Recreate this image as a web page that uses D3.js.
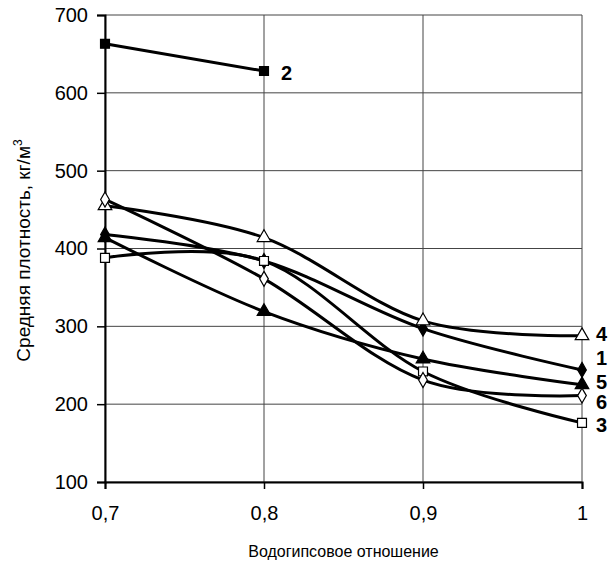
<!DOCTYPE html>
<html>
<head>
<meta charset="utf-8">
<script src="https://cdn.jsdelivr.net/npm/d3@7"></script>
<style>
  body { margin: 0; background: #fff; }
  svg text { font-family: "Liberation Sans", Arial, sans-serif; }
</style>
</head>
<body>
<svg id="chart" width="614" height="563"></svg>
<script>
// data
var ratios = [0.7, 0.8, 0.9, 1.0];
var s1 = [418, 384, 297, 244];
var s2 = [663, 628];
var s3 = [388, 384, 242, 176];
var s4 = [455, 414, 307, 288];
var s5 = [414, 319, 258, 225];
var s6 = [463, 361, 231, 211];
var yTicks = [100, 200, 300, 400, 500, 600, 700];
var xTickLabels = ["0,7", "0,8", "0,9", "1"];

var series = [
  {name: "1", values: s1, marker: "diamond", fill: "#000", dx: 14, dy: -12},
  {name: "2", values: s2, marker: "square", fill: "#000", dx: 17, dy: 2},
  {name: "3", values: s3, marker: "square", fill: "#fff", dx: 14, dy: 2},
  {name: "4", values: s4, marker: "triangle", fill: "#fff", dx: 14, dy: -2},
  {name: "5", values: s5, marker: "triangle", fill: "#000", dx: 14, dy: -3},
  {name: "6", values: s6, marker: "diamond", fill: "#fff", dx: 14, dy: 6}
];

var margin = {top: 15, right: 32, bottom: 81, left: 105};
var W = 614, H = 563;
var w = W - margin.left - margin.right, h = H - margin.top - margin.bottom;

var svg = d3.select("#chart");
var g = svg.append("g").attr("transform", "translate(" + margin.left + "," + margin.top + ")");

var x = d3.scaleLinear().domain([0.7, 1.0]).range([0, w]);
var y = d3.scaleLinear().domain([100, 700]).range([h, 0]);

// grid
g.selectAll(".hgrid").data(yTicks).enter().append("line")
  .attr("x1", 0).attr("x2", w)
  .attr("y1", function(d) { return y(d); }).attr("y2", function(d) { return y(d); })
  .attr("stroke", "#444").attr("stroke-width", 1);
g.selectAll(".vgrid").data(ratios).enter().append("line")
  .attr("y1", 0).attr("y2", h)
  .attr("x1", function(d) { return x(d); }).attr("x2", function(d) { return x(d); })
  .attr("stroke", "#444").attr("stroke-width", 1);

// axes
var yAxis = d3.axisLeft(y).tickValues(yTicks).tickSize(8).tickPadding(9);
var xAxis = d3.axisBottom(x).tickValues(ratios).tickSize(7).tickPadding(17)
  .tickFormat(function(d, i) { return xTickLabels[i]; });

var ya = g.append("g").call(yAxis);
var xa = g.append("g").attr("transform", "translate(0," + h + ")").call(xAxis);
[ya, xa].forEach(function(a) {
  a.attr("font-size", null).attr("font-family", null);
  a.select(".domain").attr("stroke", "#000").attr("stroke-width", 2);
  a.selectAll(".tick line").attr("stroke", "#000").attr("stroke-width", 1.5);
  a.selectAll("text").style("font-size", "20px").style("fill", "#000");
});

// axis titles
svg.append("text")
  .attr("x", margin.left + w / 2).attr("y", 557)
  .attr("text-anchor", "middle").style("font-size", "16px")
  .text("Водогипсовое отношение");
var yt = svg.append("text")
  .attr("transform", "translate(30," + (margin.top + h / 2 + 2) + ") rotate(-90)")
  .attr("text-anchor", "middle").style("font-size", "19px");
yt.append("tspan").text("Средняя плотность, кг/м");
yt.append("tspan").attr("dy", -8).style("font-size", "12px").text("3");

// lines
var line = d3.line()
  .x(function(d, i) { return x(ratios[i]); })
  .y(function(d) { return y(d); })
  .curve(d3.curveCardinal.tension(0));

series.forEach(function(s) {
  g.append("path").datum(s.values)
    .attr("d", line)
    .attr("fill", "none").attr("stroke", "#000").attr("stroke-width", 3);
});

// markers
var symbols = {
  square: d3.symbol().type(d3.symbolSquare).size(80),
  diamond: d3.symbol().type(d3.symbolDiamond).size(65),
  triangle: d3.symbol().type(d3.symbolTriangle).size(80)
};
series.forEach(function(s) {
  g.selectAll(null).data(s.values).enter().append("path")
    .attr("d", symbols[s.marker])
    .attr("transform", function(d, i) { return "translate(" + x(ratios[i]) + "," + y(d) + ")"; })
    .attr("fill", s.fill).attr("stroke", "#000").attr("stroke-width", 1.2);
});

// series labels
series.forEach(function(s) {
  var n = s.values.length - 1;
  g.append("text")
    .attr("x", x(ratios[n]) + s.dx)
    .attr("y", y(s.values[n]) + 7 + s.dy)
    .style("font-size", "20px").style("font-weight", "bold")
    .text(s.name);
});
</script>
</body>
</html>
